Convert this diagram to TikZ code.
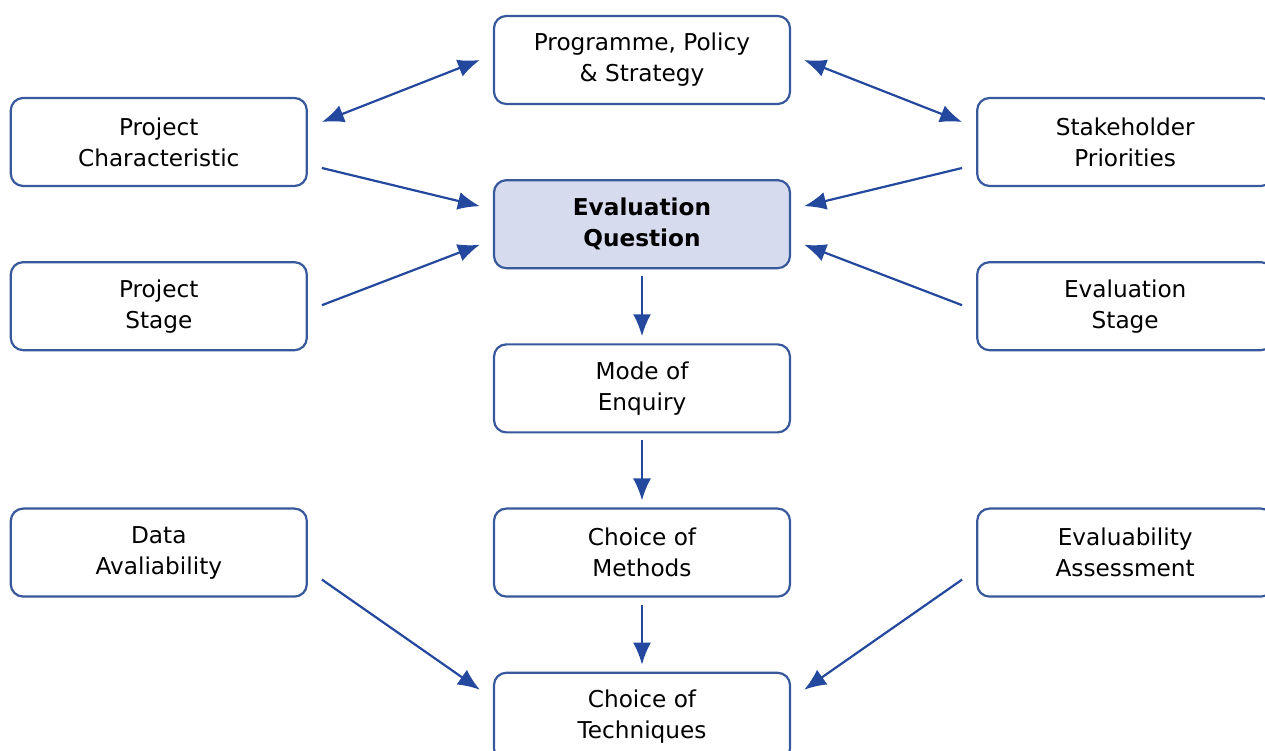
\documentclass[tikz,border=0pt]{standalone}
\usepackage{fontspec}
\setmainfont{DejaVu Sans}
\usepackage{tikz}
\usetikzlibrary{arrows.meta,shapes,positioning,calc}

\definecolor{boxline}{RGB}{55,88,155}
\definecolor{arrowblue}{RGB}{35,72,158}
\definecolor{keyfill}{RGB}{214,219,238}

\begin{document}
\begin{tikzpicture}[
		basic/.style = {draw=boxline, line width=1.25pt, rectangle, rounded corners=7pt,
			minimum width=5.92cm, minimum height=1.76cm, align=center,
			font=\fontsize{13.2}{17.6}\selectfont},
		key/.style   = {basic, fill=keyfill, font=\fontsize{13.2}{17.6}\selectfont\bfseries},
		link/.style  = {draw=arrowblue, line width=1.25pt, -{Latex[length=0.44cm,width=0.36cm]}},
		twoway/.style = {link, {Latex[length=0.44cm,width=0.36cm]}-{Latex[length=0.44cm,width=0.36cm]}},
		node distance=1.48cm]
		\useasboundingbox (0,0) rectangle (25.3,-15.02);
		
		% Middle column, top to bottom
		\node[basic] (prog) at (12.84,-1.2) {Programme, Policy\\\& Strategy};
		\node[key, below=of prog] (eq) {Evaluation\\Question};
		\node[basic, below=of eq] (moe) {Mode of\\Enquiry};
		\node[basic, below=of moe] (com) {Choice of\\Methods};
		\node[basic, below=of com] (cot) {Choice of\\Techniques};
		
		% Side columns, set halfway between the rows of the middle column
		\begin{scope}[node distance=3.7cm]
			\node[basic, left=of prog, yshift=-1.64cm] (pc) {Project\\Characteristic};
			\node[basic, right=of prog, yshift=-1.64cm] (sp) {Stakeholder\\Priorities};
			\node[basic, left=of eq, yshift=-1.64cm] (ps) {Project\\Stage};
			\node[basic, right=of eq, yshift=-1.64cm] (es) {Evaluation\\Stage};
			\node[basic, left=of com] (dat) {Data\\Avaliability};
			\node[basic, right=of com] (eva) {Evaluability\\Assessment};
		\end{scope}
		
		% Two-way links with the programme box
		\draw[twoway] ([shift={(0.28,0.4)}]pc.east) -- ([xshift=-0.26cm]prog.west);
		\draw[twoway] ([xshift=0.26cm]prog.east) -- ([shift={(-0.28,0.4)}]sp.west);
		
		% Everything feeding the evaluation question
		\draw[link] ([shift={(0.28,-0.52)}]pc.east) -- ([shift={(-0.26,0.36)}]eq.west);
		\draw[link] ([shift={(0.28,0.02)}]ps.east) -- ([shift={(-0.26,-0.41)}]eq.west);
		\draw[link] ([shift={(-0.28,-0.52)}]sp.west) -- ([shift={(0.26,0.36)}]eq.east);
		\draw[link] ([shift={(-0.28,0.02)}]es.west) -- ([shift={(0.26,-0.41)}]eq.east);
		
		% Straight down the middle
		\foreach \from/\to in {eq/moe, moe/com, com/cot}
		\draw[link] ([yshift=-0.14cm]\from.south) -- ([yshift=0.14cm]\to.north);
		
		% Into the choice of techniques
		\draw[link] ([shift={(0.28,-0.54)}]dat.east) -- ([shift={(-0.26,0.54)}]cot.west);
		\draw[link] ([shift={(-0.28,-0.54)}]eva.west) -- ([shift={(0.26,0.54)}]cot.east);
		
	\end{tikzpicture}
\end{document}
